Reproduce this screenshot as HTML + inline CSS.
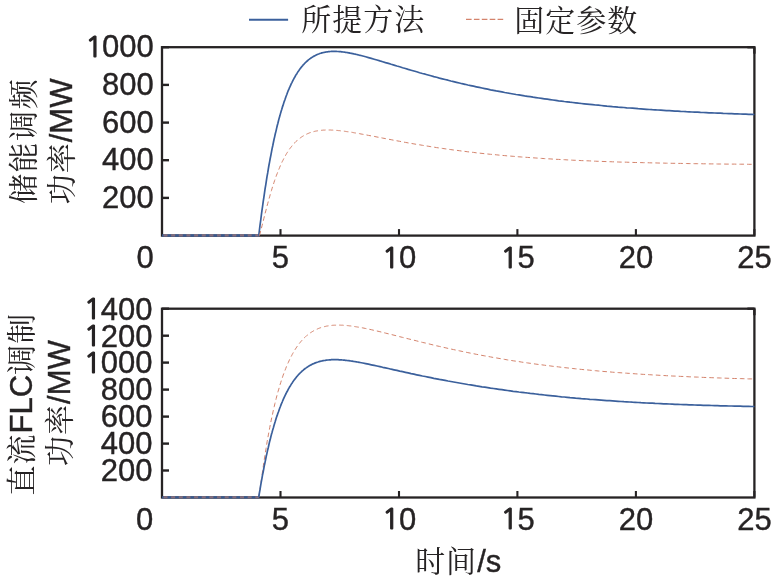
<!DOCTYPE html>
<html lang="zh"><head><meta charset="utf-8"><title>储能调频功率与直流FLC调制功率</title>
<style>
html,body{margin:0;padding:0;background:#fff;}
svg{display:block;}
text{font-family:"Liberation Sans","Noto Serif CJK SC",serif;font-size:31px;fill:#262324;stroke:#262324;stroke-width:0.4px;}
.o{font-family:"NanumGothic","Liberation Sans",sans-serif;font-size:29px;stroke-width:1.2px;}
.c{font-size:30px;letter-spacing:1px;stroke:none;}
</style></head><body>
<svg width="776" height="582" viewBox="0 0 776 582">
<rect width="776" height="582" fill="#fff"/>
<!-- legend -->
<line x1="249" y1="19.7" x2="288.1" y2="19.7" stroke="#3b609c" stroke-width="1.9"/>
<text x="301.2" y="30.3"><tspan class="c">所提方法</tspan></text>
<line x1="466" y1="19.4" x2="503.3" y2="19.4" stroke="#d4836c" stroke-width="1.1" stroke-dasharray="5.6 2.3"/>
<text x="514.2" y="30.6"><tspan class="c">固定参数</tspan></text>
<!-- axes 1 -->
<rect x="162.0" y="47.2" width="592.4" height="188.4" fill="none" stroke="#262324" stroke-width="2.3"/><g stroke="#262324" stroke-width="2.4" fill="none"><line x1="162.0" y1="197.9" x2="169.0" y2="197.9"/><line x1="162.0" y1="160.2" x2="169.0" y2="160.2"/><line x1="162.0" y1="122.6" x2="169.0" y2="122.6"/><line x1="162.0" y1="84.9" x2="169.0" y2="84.9"/><line x1="162.0" y1="47.2" x2="169.0" y2="47.2"/><line x1="280.5" y1="235.6" x2="280.5" y2="229.1" stroke-width="2.1"/><line x1="399.0" y1="235.6" x2="399.0" y2="229.1" stroke-width="2.1"/><line x1="517.4" y1="235.6" x2="517.4" y2="229.1" stroke-width="2.1"/><line x1="635.9" y1="235.6" x2="635.9" y2="229.1" stroke-width="2.1"/><line x1="754.4" y1="235.6" x2="754.4" y2="229.1" stroke-width="2.1"/><line x1="754.4" y1="47.2" x2="754.4" y2="53.7"/><line x1="754.4" y1="47.2" x2="747.4" y2="47.2"/></g>
<line x1="162.0" y1="235.5" x2="259.1" y2="235.5" stroke="#39598f" stroke-width="2.3"/>
<line x1="163.5" y1="235.4" x2="258.8" y2="235.4" stroke="#d0826c" stroke-opacity="0.5" stroke-width="2.1" stroke-dasharray="4 3.65"/>
<path d="M258.8 235.6 L259.4 230.4 260.0 225.3 260.7 220.4 261.3 215.5 261.9 210.8 262.6 206.2 263.2 201.7 263.9 197.2 264.5 192.9 265.1 188.7 265.8 184.6 266.4 180.6 267.0 176.7 267.7 172.9 268.3 169.1 268.9 165.5 269.6 161.9 270.2 158.5 270.9 155.1 271.5 151.8 272.1 148.6 272.8 145.5 273.4 142.5 274.0 139.5 274.7 136.6 275.3 133.8 276.0 131.1 276.6 128.4 277.2 125.8 277.9 123.3 278.5 120.8 279.1 118.4 279.8 116.1 280.4 113.9 281.0 111.7 281.7 109.5 282.3 107.4 283.0 105.4 283.6 103.5 284.2 101.6 284.9 99.7 285.5 97.9 286.1 96.2 286.8 94.5 287.4 92.8 288.0 91.2 288.7 89.7 289.3 88.2 290.0 86.7 290.6 85.3 291.2 83.9 291.9 82.6 292.5 81.3 293.1 80.1 293.8 78.8 294.4 77.7 295.1 76.5 295.7 75.4 296.3 74.4 297.0 73.4 297.6 72.4 298.2 71.4 298.9 70.5 299.5 69.6 300.1 68.7 300.8 67.9 301.4 67.1 302.1 66.3 302.7 65.6 303.3 64.8 304.0 64.1 304.6 63.5 305.2 62.8 305.9 62.2 306.5 61.6 307.2 61.0 307.8 60.5 308.4 59.9 309.1 59.4 309.7 58.9 310.3 58.5 311.0 58.0 311.6 57.6 312.2 57.2 312.9 56.8 313.5 56.4 314.2 56.1 314.8 55.7 315.4 55.4 316.1 55.1 316.7 54.8 317.3 54.5 318.0 54.2 318.6 54.0 319.2 53.8 319.9 53.5 320.5 53.3 321.2 53.1 321.8 52.9 322.4 52.8 323.1 52.6 323.7 52.5 324.3 52.3 325.0 52.2 325.6 52.1 326.3 52.0 326.9 51.9 327.5 51.8 328.2 51.7 328.8 51.6 329.4 51.6 330.1 51.5 330.7 51.5 331.3 51.4 332.0 51.4 332.6 51.4 333.3 51.4 333.9 51.4 334.5 51.4 335.2 51.4 335.8 51.4 336.4 51.4 337.1 51.5 337.7 51.5 338.4 51.5 339.0 51.6 339.6 51.6 340.3 51.7 340.9 51.7 341.5 51.8 342.2 51.9 342.8 52.0 343.4 52.0 344.1 52.1 344.7 52.2 345.4 52.3 346.0 52.4 346.6 52.5 347.3 52.6 347.9 52.7 348.5 52.8 349.2 52.9 349.8 53.1 350.4 53.2 351.1 53.3 351.7 53.4 352.4 53.6 353.0 53.7 353.6 53.8 354.3 54.0 354.9 54.1 355.5 54.2 356.2 54.4 356.8 54.5 357.5 54.7 358.1 54.8 358.7 55.0 359.4 55.2 360.0 55.3 362.8 56.0 365.7 56.8 368.5 57.6 371.3 58.4 374.2 59.2 377.0 60.0 379.9 60.9 382.7 61.7 385.5 62.6 388.4 63.4 391.2 64.3 394.0 65.1 396.9 66.0 399.7 66.8 402.6 67.7 405.4 68.5 408.2 69.4 411.1 70.2 413.9 71.0 416.7 71.8 419.6 72.7 422.4 73.5 425.3 74.2 428.1 75.0 430.9 75.8 433.8 76.6 436.6 77.3 439.4 78.1 442.3 78.8 445.1 79.5 448.0 80.2 450.8 81.0 453.6 81.6 456.5 82.3 459.3 83.0 462.1 83.7 465.0 84.3 467.8 85.0 470.7 85.6 473.5 86.2 476.3 86.8 479.2 87.4 482.0 88.0 484.8 88.6 487.7 89.2 490.5 89.8 493.4 90.3 496.2 90.9 499.0 91.4 501.9 91.9 504.7 92.5 507.5 93.0 510.4 93.5 513.2 94.0 516.1 94.5 518.9 94.9 521.7 95.4 524.6 95.9 527.4 96.3 530.2 96.7 533.1 97.2 535.9 97.6 538.8 98.0 541.6 98.4 544.4 98.8 547.3 99.2 550.1 99.6 552.9 100.0 555.8 100.4 558.6 100.8 561.5 101.1 564.3 101.5 567.1 101.8 570.0 102.2 572.8 102.5 575.6 102.8 578.5 103.2 581.3 103.5 584.2 103.8 587.0 104.1 589.8 104.4 592.7 104.7 595.5 105.0 598.3 105.2 601.2 105.5 604.0 105.8 606.9 106.1 609.7 106.3 612.5 106.6 615.4 106.8 618.2 107.1 621.0 107.3 623.9 107.5 626.7 107.8 629.6 108.0 632.4 108.2 635.2 108.4 638.1 108.7 640.9 108.9 643.7 109.1 646.6 109.3 649.4 109.5 652.3 109.7 655.1 109.8 657.9 110.0 660.8 110.2 663.6 110.4 666.4 110.6 669.3 110.7 672.1 110.9 675.0 111.1 677.8 111.2 680.6 111.4 683.5 111.5 686.3 111.7 689.1 111.8 692.0 112.0 694.8 112.1 697.7 112.2 700.5 112.4 703.3 112.5 706.2 112.6 709.0 112.8 711.8 112.9 714.7 113.0 717.5 113.1 720.4 113.2 723.2 113.4 726.0 113.5 728.9 113.6 731.7 113.7 734.5 113.8 737.4 113.9 740.2 114.0 743.1 114.1 745.9 114.2 748.7 114.3 751.6 114.4 754.4 114.5" fill="none" stroke="#3b609c" stroke-width="1.7" stroke-linejoin="round"/>
<path d="M259.5 235.6 L260.1 233.2 260.7 230.8 261.4 228.3 262.0 225.8 262.6 223.3 263.3 220.8 263.9 218.3 264.5 215.8 265.1 213.3 265.8 210.9 266.4 208.5 267.0 206.1 267.7 203.7 268.3 201.4 268.9 199.1 269.6 196.9 270.2 194.7 270.8 192.5 271.5 190.4 272.1 188.3 272.7 186.3 273.4 184.4 274.0 182.4 274.6 180.6 275.3 178.7 275.9 177.0 276.5 175.2 277.2 173.6 277.8 171.9 278.4 170.3 279.1 168.8 279.7 167.3 280.3 165.8 281.0 164.4 281.6 163.0 282.2 161.7 282.9 160.4 283.5 159.2 284.1 158.0 284.8 156.8 285.4 155.7 286.0 154.6 286.6 153.5 287.3 152.5 287.9 151.5 288.5 150.6 289.2 149.6 289.8 148.7 290.4 147.9 291.1 147.1 291.7 146.3 292.3 145.5 293.0 144.7 293.6 144.0 294.2 143.3 294.9 142.7 295.5 142.0 296.1 141.4 296.8 140.8 297.4 140.2 298.0 139.7 298.7 139.2 299.3 138.7 299.9 138.2 300.6 137.7 301.2 137.3 301.8 136.8 302.5 136.4 303.1 136.0 303.7 135.7 304.4 135.3 305.0 134.9 305.6 134.6 306.3 134.3 306.9 134.0 307.5 133.7 308.1 133.5 308.8 133.2 309.4 132.9 310.0 132.7 310.7 132.5 311.3 132.3 311.9 132.1 312.6 131.9 313.2 131.7 313.8 131.6 314.5 131.4 315.1 131.3 315.7 131.1 316.4 131.0 317.0 130.9 317.6 130.8 318.3 130.7 318.9 130.6 319.5 130.5 320.2 130.4 320.8 130.3 321.4 130.3 322.1 130.2 322.7 130.2 323.3 130.1 324.0 130.1 324.6 130.1 325.2 130.0 325.9 130.0 326.5 130.0 327.1 130.0 327.8 130.0 328.4 130.0 329.0 130.0 329.6 130.0 330.3 130.0 330.9 130.0 331.5 130.1 332.2 130.1 332.8 130.1 333.4 130.2 334.1 130.2 334.7 130.2 335.3 130.3 336.0 130.3 336.6 130.4 337.2 130.4 337.9 130.5 338.5 130.6 339.1 130.6 339.8 130.7 340.4 130.8 341.0 130.8 341.7 130.9 342.3 131.0 342.9 131.1 343.6 131.1 344.2 131.2 344.8 131.3 345.5 131.4 346.1 131.5 346.7 131.6 347.4 131.7 348.0 131.8 348.6 131.8 349.3 131.9 349.9 132.0 350.5 132.1 351.1 132.2 351.8 132.3 352.4 132.4 353.0 132.5 353.7 132.7 354.3 132.8 354.9 132.9 355.6 133.0 356.2 133.1 356.8 133.2 357.5 133.3 358.1 133.4 358.7 133.5 359.4 133.6 360.0 133.8 362.8 134.3 365.7 134.8 368.5 135.4 371.3 135.9 374.2 136.4 377.0 137.0 379.9 137.5 382.7 138.1 385.5 138.6 388.4 139.2 391.2 139.7 394.0 140.3 396.9 140.8 399.7 141.3 402.6 141.9 405.4 142.4 408.2 142.9 411.1 143.4 413.9 143.9 416.7 144.4 419.6 144.8 422.4 145.3 425.3 145.8 428.1 146.2 430.9 146.7 433.8 147.1 436.6 147.6 439.4 148.0 442.3 148.4 445.1 148.8 448.0 149.2 450.8 149.6 453.6 150.0 456.5 150.3 459.3 150.7 462.1 151.1 465.0 151.4 467.8 151.8 470.7 152.1 473.5 152.4 476.3 152.8 479.2 153.1 482.0 153.4 484.8 153.7 487.7 154.0 490.5 154.3 493.4 154.5 496.2 154.8 499.0 155.1 501.9 155.4 504.7 155.6 507.5 155.9 510.4 156.1 513.2 156.3 516.1 156.6 518.9 156.8 521.7 157.0 524.6 157.2 527.4 157.4 530.2 157.6 533.1 157.8 535.9 158.0 538.8 158.2 541.6 158.4 544.4 158.6 547.3 158.8 550.1 158.9 552.9 159.1 555.8 159.3 558.6 159.4 561.5 159.6 564.3 159.7 567.1 159.9 570.0 160.0 572.8 160.2 575.6 160.3 578.5 160.4 581.3 160.6 584.2 160.7 587.0 160.8 589.8 160.9 592.7 161.1 595.5 161.2 598.3 161.3 601.2 161.4 604.0 161.5 606.9 161.6 609.7 161.7 612.5 161.8 615.4 161.9 618.2 162.0 621.0 162.1 623.9 162.1 626.7 162.2 629.6 162.3 632.4 162.4 635.2 162.5 638.1 162.5 640.9 162.6 643.7 162.7 646.6 162.7 649.4 162.8 652.3 162.9 655.1 162.9 657.9 163.0 660.8 163.1 663.6 163.1 666.4 163.2 669.3 163.2 672.1 163.3 675.0 163.3 677.8 163.4 680.6 163.4 683.5 163.5 686.3 163.5 689.1 163.6 692.0 163.6 694.8 163.7 697.7 163.7 700.5 163.7 703.3 163.8 706.2 163.8 709.0 163.9 711.8 163.9 714.7 163.9 717.5 164.0 720.4 164.0 723.2 164.0 726.0 164.1 728.9 164.1 731.7 164.1 734.5 164.1 737.4 164.2 740.2 164.2 743.1 164.2 745.9 164.2 748.7 164.3 751.6 164.3 754.4 164.3" fill="none" stroke="#d4836c" stroke-width="1" stroke-dasharray="4.6 3.05" stroke-linejoin="round"/>
<text x="102.08" y="207.9">200</text>
<text x="102.08" y="170.2">400</text>
<text x="102.08" y="132.6">600</text>
<text x="102.08" y="94.9">800</text>
<text y="57.2"><tspan class="o" x="85.14" dy="-0.5">1</tspan><tspan x="102.08" dy="0.5">000</tspan></text>
<text x="136.56" y="268.0">0</text>
<text x="271.86" y="268.0">5</text>
<text y="268.0"><tspan class="o" x="382.02" dy="-0.5">1</tspan><tspan x="398.96" dy="0.5">0</tspan></text>
<text y="268.0"><tspan class="o" x="500.50" dy="-0.5">1</tspan><tspan x="517.44" dy="0.5">5</tspan></text>
<text x="618.68" y="268.0">20</text>
<text x="737.16" y="268.0">25</text>
<text transform="translate(34.3 140.8) rotate(-90)" text-anchor="middle"><tspan class="c" style="letter-spacing:1.6px">储能调频</tspan></text>
<text transform="translate(71.6 141.4) rotate(-90)" text-anchor="middle"><tspan class="c">功率</tspan>/MW</text>
<!-- axes 2 -->
<rect x="162.0" y="308.7" width="592.4" height="188.8" fill="none" stroke="#262324" stroke-width="2.3"/><g stroke="#262324" stroke-width="2.4" fill="none"><line x1="162.0" y1="470.5" x2="169.0" y2="470.5"/><line x1="162.0" y1="443.6" x2="169.0" y2="443.6"/><line x1="162.0" y1="416.6" x2="169.0" y2="416.6"/><line x1="162.0" y1="389.6" x2="169.0" y2="389.6"/><line x1="162.0" y1="362.6" x2="169.0" y2="362.6"/><line x1="162.0" y1="335.7" x2="169.0" y2="335.7"/><line x1="162.0" y1="308.7" x2="169.0" y2="308.7"/><line x1="280.5" y1="497.5" x2="280.5" y2="491.0" stroke-width="2.1"/><line x1="399.0" y1="497.5" x2="399.0" y2="491.0" stroke-width="2.1"/><line x1="517.4" y1="497.5" x2="517.4" y2="491.0" stroke-width="2.1"/><line x1="635.9" y1="497.5" x2="635.9" y2="491.0" stroke-width="2.1"/><line x1="754.4" y1="497.5" x2="754.4" y2="491.0" stroke-width="2.1"/><line x1="754.4" y1="308.7" x2="754.4" y2="315.2"/><line x1="754.4" y1="308.7" x2="747.4" y2="308.7"/></g>
<line x1="162.0" y1="497.4" x2="259.0" y2="497.4" stroke="#39598f" stroke-width="2.3"/>
<line x1="163.5" y1="497.3" x2="258.7" y2="497.3" stroke="#d0826c" stroke-opacity="0.5" stroke-width="2.1" stroke-dasharray="4 3.65"/>
<path d="M258.3 497.5 L258.9 496.0 259.6 492.5 260.2 488.3 260.8 483.7 261.5 479.1 262.1 474.5 262.8 469.9 263.4 465.5 264.0 461.2 264.7 457.0 265.3 452.9 266.0 448.9 266.6 445.1 267.2 441.3 267.9 437.6 268.5 434.1 269.2 430.6 269.8 427.3 270.4 424.0 271.1 420.8 271.7 417.8 272.4 414.8 273.0 411.9 273.6 409.0 274.3 406.3 274.9 403.6 275.6 401.0 276.2 398.5 276.8 396.0 277.5 393.7 278.1 391.3 278.8 389.1 279.4 386.9 280.0 384.8 280.7 382.7 281.3 380.7 282.0 378.8 282.6 376.9 283.2 375.1 283.9 373.3 284.5 371.6 285.2 369.9 285.8 368.3 286.4 366.7 287.1 365.2 287.7 363.7 288.4 362.3 289.0 360.9 289.6 359.5 290.3 358.2 290.9 357.0 291.6 355.7 292.2 354.5 292.8 353.4 293.5 352.2 294.1 351.2 294.7 350.1 295.4 349.1 296.0 348.1 296.7 347.1 297.3 346.2 297.9 345.3 298.6 344.5 299.2 343.6 299.9 342.8 300.5 342.0 301.1 341.3 301.8 340.5 302.4 339.8 303.1 339.1 303.7 338.5 304.3 337.8 305.0 337.2 305.6 336.6 306.3 336.1 306.9 335.5 307.5 335.0 308.2 334.5 308.8 334.0 309.5 333.5 310.1 333.0 310.7 332.6 311.4 332.2 312.0 331.8 312.7 331.4 313.3 331.0 313.9 330.6 314.6 330.3 315.2 330.0 315.9 329.7 316.5 329.4 317.1 329.1 317.8 328.8 318.4 328.5 319.1 328.3 319.7 328.0 320.3 327.8 321.0 327.6 321.6 327.4 322.3 327.2 322.9 327.0 323.5 326.8 324.2 326.7 324.8 326.5 325.5 326.4 326.1 326.2 326.7 326.1 327.4 326.0 328.0 325.9 328.7 325.8 329.3 325.7 329.9 325.6 330.6 325.5 331.2 325.5 331.9 325.4 332.5 325.3 333.1 325.3 333.8 325.2 334.4 325.2 335.1 325.2 335.7 325.2 336.3 325.1 337.0 325.1 337.6 325.1 338.2 325.1 338.9 325.1 339.5 325.1 340.2 325.1 340.8 325.2 341.4 325.2 342.1 325.2 342.7 325.2 343.4 325.3 344.0 325.3 344.6 325.4 345.3 325.4 345.9 325.5 346.6 325.5 347.2 325.6 347.8 325.6 348.5 325.7 349.1 325.8 349.8 325.9 350.4 325.9 351.0 326.0 351.7 326.1 352.3 326.2 353.0 326.3 353.6 326.4 354.2 326.5 354.9 326.6 355.5 326.7 356.2 326.8 356.8 326.9 357.4 327.0 358.1 327.1 358.7 327.2 359.4 327.3 360.0 327.4 362.8 327.9 365.7 328.5 368.5 329.1 371.3 329.7 374.2 330.4 377.0 331.0 379.9 331.7 382.7 332.4 385.5 333.1 388.4 333.8 391.2 334.5 394.0 335.2 396.9 335.9 399.7 336.7 402.6 337.4 405.4 338.1 408.2 338.8 411.1 339.5 413.9 340.2 416.7 340.9 419.6 341.7 422.4 342.4 425.3 343.0 428.1 343.7 430.9 344.4 433.8 345.1 436.6 345.8 439.4 346.4 442.3 347.1 445.1 347.7 448.0 348.4 450.8 349.0 453.6 349.6 456.5 350.2 459.3 350.8 462.1 351.4 465.0 352.0 467.8 352.6 470.7 353.2 473.5 353.7 476.3 354.3 479.2 354.8 482.0 355.4 484.8 355.9 487.7 356.4 490.5 356.9 493.4 357.5 496.2 357.9 499.0 358.4 501.9 358.9 504.7 359.4 507.5 359.9 510.4 360.3 513.2 360.8 516.1 361.2 518.9 361.6 521.7 362.1 524.6 362.5 527.4 362.9 530.2 363.3 533.1 363.7 535.9 364.1 538.8 364.5 541.6 364.8 544.4 365.2 547.3 365.6 550.1 365.9 552.9 366.3 555.8 366.6 558.6 366.9 561.5 367.3 564.3 367.6 567.1 367.9 570.0 368.2 572.8 368.5 575.6 368.8 578.5 369.1 581.3 369.4 584.2 369.7 587.0 369.9 589.8 370.2 592.7 370.5 595.5 370.7 598.3 371.0 601.2 371.2 604.0 371.5 606.9 371.7 609.7 371.9 612.5 372.2 615.4 372.4 618.2 372.6 621.0 372.8 623.9 373.0 626.7 373.2 629.6 373.4 632.4 373.6 635.2 373.8 638.1 374.0 640.9 374.2 643.7 374.4 646.6 374.5 649.4 374.7 652.3 374.9 655.1 375.0 657.9 375.2 660.8 375.4 663.6 375.5 666.4 375.7 669.3 375.8 672.1 376.0 675.0 376.1 677.8 376.2 680.6 376.4 683.5 376.5 686.3 376.6 689.1 376.8 692.0 376.9 694.8 377.0 697.7 377.1 700.5 377.2 703.3 377.4 706.2 377.5 709.0 377.6 711.8 377.7 714.7 377.8 717.5 377.9 720.4 378.0 723.2 378.1 726.0 378.2 728.9 378.3 731.7 378.4 734.5 378.5 737.4 378.5 740.2 378.6 743.1 378.7 745.9 378.8 748.7 378.9 751.6 378.9 754.4 379.0" fill="none" stroke="#d4836c" stroke-width="1" stroke-dasharray="4.6 3.05" stroke-linejoin="round"/>
<path d="M258.7 497.5 L259.3 493.5 260.0 489.7 260.6 485.9 261.2 482.3 261.9 478.7 262.5 475.2 263.2 471.8 263.8 468.5 264.4 465.2 265.1 462.1 265.7 459.0 266.3 456.0 267.0 453.1 267.6 450.2 268.3 447.5 268.9 444.8 269.5 442.1 270.2 439.6 270.8 437.0 271.4 434.6 272.1 432.2 272.7 429.9 273.4 427.7 274.0 425.5 274.6 423.4 275.3 421.3 275.9 419.3 276.5 417.3 277.2 415.4 277.8 413.5 278.5 411.7 279.1 409.9 279.7 408.2 280.4 406.5 281.0 404.9 281.6 403.3 282.3 401.8 282.9 400.3 283.5 398.9 284.2 397.4 284.8 396.1 285.5 394.7 286.1 393.5 286.7 392.2 287.4 391.0 288.0 389.8 288.6 388.6 289.3 387.5 289.9 386.4 290.6 385.4 291.2 384.4 291.8 383.4 292.5 382.4 293.1 381.5 293.7 380.6 294.4 379.7 295.0 378.9 295.7 378.1 296.3 377.3 296.9 376.5 297.6 375.7 298.2 375.0 298.8 374.3 299.5 373.7 300.1 373.0 300.7 372.4 301.4 371.8 302.0 371.2 302.7 370.6 303.3 370.1 303.9 369.5 304.6 369.0 305.2 368.5 305.8 368.1 306.5 367.6 307.1 367.2 307.8 366.8 308.4 366.4 309.0 366.0 309.7 365.6 310.3 365.2 310.9 364.9 311.6 364.6 312.2 364.2 312.9 363.9 313.5 363.7 314.1 363.4 314.8 363.1 315.4 362.9 316.0 362.6 316.7 362.4 317.3 362.2 318.0 362.0 318.6 361.8 319.2 361.6 319.9 361.4 320.5 361.3 321.1 361.1 321.8 361.0 322.4 360.8 323.0 360.7 323.7 360.6 324.3 360.5 325.0 360.4 325.6 360.3 326.2 360.2 326.9 360.1 327.5 360.0 328.1 360.0 328.8 359.9 329.4 359.8 330.1 359.8 330.7 359.8 331.3 359.7 332.0 359.7 332.6 359.7 333.2 359.7 333.9 359.7 334.5 359.7 335.2 359.7 335.8 359.7 336.4 359.7 337.1 359.7 337.7 359.7 338.3 359.7 339.0 359.8 339.6 359.8 340.2 359.8 340.9 359.9 341.5 359.9 342.2 360.0 342.8 360.0 343.4 360.1 344.1 360.1 344.7 360.2 345.3 360.3 346.0 360.3 346.6 360.4 347.3 360.5 347.9 360.6 348.5 360.7 349.2 360.7 349.8 360.8 350.4 360.9 351.1 361.0 351.7 361.1 352.4 361.2 353.0 361.3 353.6 361.4 354.3 361.5 354.9 361.6 355.5 361.7 356.2 361.8 356.8 361.9 357.5 362.0 358.1 362.1 358.7 362.3 359.4 362.4 360.0 362.5 362.8 363.0 365.7 363.6 368.5 364.2 371.3 364.8 374.2 365.4 377.0 366.0 379.9 366.6 382.7 367.3 385.5 367.9 388.4 368.5 391.2 369.2 394.0 369.8 396.9 370.4 399.7 371.1 402.6 371.7 405.4 372.3 408.2 372.9 411.1 373.6 413.9 374.2 416.7 374.8 419.6 375.4 422.4 376.0 425.3 376.5 428.1 377.1 430.9 377.7 433.8 378.3 436.6 378.8 439.4 379.4 442.3 379.9 445.1 380.4 448.0 381.0 450.8 381.5 453.6 382.0 456.5 382.5 459.3 383.0 462.1 383.5 465.0 384.0 467.8 384.5 470.7 384.9 473.5 385.4 476.3 385.9 479.2 386.3 482.0 386.8 484.8 387.2 487.7 387.6 490.5 388.1 493.4 388.5 496.2 388.9 499.0 389.3 501.9 389.7 504.7 390.1 507.5 390.5 510.4 390.9 513.2 391.3 516.1 391.6 518.9 392.0 521.7 392.3 524.6 392.7 527.4 393.0 530.2 393.4 533.1 393.7 535.9 394.0 538.8 394.4 541.6 394.7 544.4 395.0 547.3 395.3 550.1 395.6 552.9 395.9 555.8 396.2 558.6 396.5 561.5 396.8 564.3 397.0 567.1 397.3 570.0 397.6 572.8 397.8 575.6 398.1 578.5 398.3 581.3 398.6 584.2 398.8 587.0 399.0 589.8 399.3 592.7 399.5 595.5 399.7 598.3 399.9 601.2 400.1 604.0 400.3 606.9 400.6 609.7 400.7 612.5 400.9 615.4 401.1 618.2 401.3 621.0 401.5 623.9 401.7 626.7 401.8 629.6 402.0 632.4 402.2 635.2 402.3 638.1 402.5 640.9 402.7 643.7 402.8 646.6 403.0 649.4 403.1 652.3 403.2 655.1 403.4 657.9 403.5 660.8 403.6 663.6 403.8 666.4 403.9 669.3 404.0 672.1 404.1 675.0 404.3 677.8 404.4 680.6 404.5 683.5 404.6 686.3 404.7 689.1 404.8 692.0 404.9 694.8 405.0 697.7 405.1 700.5 405.2 703.3 405.3 706.2 405.3 709.0 405.4 711.8 405.5 714.7 405.6 717.5 405.7 720.4 405.8 723.2 405.8 726.0 405.9 728.9 406.0 731.7 406.0 734.5 406.1 737.4 406.2 740.2 406.2 743.1 406.3 745.9 406.4 748.7 406.4 751.6 406.5 754.4 406.5" fill="none" stroke="#3b609c" stroke-width="1.7" stroke-linejoin="round"/>
<text x="100.68" y="481.3">200</text>
<text x="100.68" y="454.4">400</text>
<text x="100.68" y="427.4">600</text>
<text x="100.68" y="400.4">800</text>
<text y="373.4"><tspan class="o" x="83.74" dy="-0.5">1</tspan><tspan x="100.68" dy="0.5">000</tspan></text>
<text y="346.5"><tspan class="o" x="83.74" dy="-0.5">1</tspan><tspan x="100.68" dy="0.5">200</tspan></text>
<text y="319.5"><tspan class="o" x="83.74" dy="-0.5">1</tspan><tspan x="100.68" dy="0.5">400</tspan></text>
<text x="136.06" y="529.8">0</text>
<text x="271.86" y="529.8">5</text>
<text y="529.8"><tspan class="o" x="382.02" dy="-0.5">1</tspan><tspan x="398.96" dy="0.5">0</tspan></text>
<text y="529.8"><tspan class="o" x="500.50" dy="-0.5">1</tspan><tspan x="517.44" dy="0.5">5</tspan></text>
<text x="618.68" y="529.8">20</text>
<text x="737.16" y="529.8">25</text>
<text transform="translate(32.3 404.1) rotate(-90)" text-anchor="middle"><tspan class="c">直流</tspan>FLC<tspan class="c">调制</tspan></text>
<text transform="translate(70.2 403.1) rotate(-90)" text-anchor="middle"><tspan class="c">功率</tspan>/MW</text>
<text x="458.2" y="572" text-anchor="middle"><tspan class="c">时间</tspan>/s</text>
</svg>
</body></html>
